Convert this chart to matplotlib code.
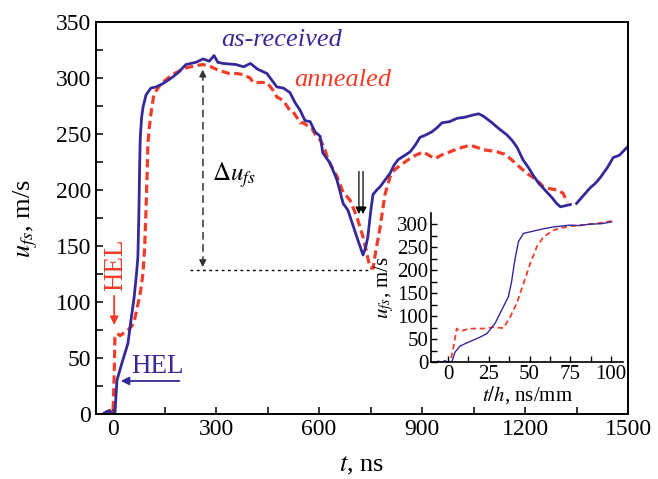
import numpy as np
import matplotlib
matplotlib.use("Agg")
import matplotlib.pyplot as plt
from matplotlib.ticker import MultipleLocator

plt.rcParams['font.family'] = ['Liberation Serif', 'DejaVu Serif']
plt.rcParams['mathtext.fontset'] = 'stix'

#-------------------------------------------------------------
# main plot: free surface velocity vs time
t_rec = [-30, -20, -12, -5, 5, 8, 11, 25, 43, 52, 61, 68, 72, 75, 77, 79, 83, 87, 96,
         110, 125, 145, 160, 174, 190, 212, 241, 262, 280, 294, 305, 320, 358, 380,
         400, 420, 448, 477, 496, 515, 530, 545, 559, 574, 588, 603, 611, 632, 652,
         670, 684, 697, 710, 728, 735, 742, 750, 757, 768, 778, 790, 807, 818, 830,
         845, 865, 880, 894, 910, 929, 945, 958, 980, 1002, 1025, 1049, 1065, 1078,
         1100, 1119, 1148, 1163, 1177, 1194, 1210, 1224, 1240, 1258, 1279, 1292,
         1303, 1318, 1332, np.nan, 1350, 1370, 1390, 1405, 1419, 1440, 1457, 1475,
         1497]
u_rec = [0, 2, 3, 0, 0, 15, 30, 45, 63, 84, 104, 125, 140, 180, 220, 247, 265, 274,
         285, 291, 292, 295, 298, 301, 305, 312, 314, 317, 315, 320, 314, 313, 312,
         310, 313, 308, 304, 292, 291, 287, 278, 271, 262, 261, 252, 248, 233, 224,
         209, 188, 182, 170, 158, 142, 148, 158, 180, 196, 200, 203, 208, 215, 222,
         227, 230, 234, 240, 247, 249, 252, 256, 260, 261, 264, 265, 267, 268, 266,
         261, 256, 249, 244, 238, 227, 220, 213, 206, 200, 193, 188, 185, 186, 187,
         np.nan, 188, 195, 202, 206, 211, 220, 229, 231, 238]

t_ann = [-15, -8, -3, 0, 3, 5, 12, 20, 30, 40, 50, 60, 73, 80, 87, 92, 96, 99, 101,
         105, 110, 119, 140, 160, 178, 212, 240, 262, 285, 306, 338, 360, 379, 399,
         408, 428, 448, 466, 477, 495, 515, 524, 545, 553, 579, 592, 603, 615, 626,
         652, 670, 690, 710, 728, 738, 748, 757, 765, 778, 785, 792, 807, 820, 836,
         855, 874, 903, 920, 938, 955, 973, 1005, 1040, 1060, 1078, 1100, 1119, 1140,
         1157, 1172, 1186, 1205, 1224, 1240, 1253, 1275, 1294, 1311, 1323]
u_ann = [0, 3, 0, 5, 35, 68, 72, 70, 72, 74, 77, 81, 99, 110, 126, 150, 185, 215,
         240, 255, 268, 286, 295, 300, 304, 309, 311, 312, 310, 307, 304, 304, 303,
         300, 296, 296, 296, 289, 283, 280, 271, 270, 260, 260, 255, 248, 245, 238,
         227, 212, 198, 191, 176, 158, 145, 131, 130, 145, 167, 182, 196, 212, 218,
         222, 226, 230, 234, 231, 228, 231, 233, 237, 240, 238, 236, 235, 234, 232,
         228, 224, 220, 215, 211, 207, 203, 201, 200, 197, 189]

# inset: velocity vs normalized time t/h
th_rec = [-8, -6, -4, -2, 0, 2.3, 4.3, 7.4, 11, 15.6, 20, 23.8, 28.8, 32.9, 37, 39, 41,
          43.2, 46.3, 52.4, 58.5, 64.7, 70, 74.9, 80, 87, 94, 100.5]
uh_rec = [0, 2, 0, 3, 0, 0, 22, 35, 41, 48, 55, 62, 84, 113, 142, 175, 222, 262, 280,
          285, 290, 294, 296, 298, 297, 300, 301, 305]
th_ann = [-2, 0, 1.5, 3.3, 5.3, 7, 9.4, 12, 15.6, 21.7, 27.9, 34, 38.1, 42.2, 46.3,
          50.4, 54.5, 58.5, 64.7, 70, 74.9, 80, 87, 94, 100.5]
uh_ann = [0, 0, 2, 33, 73, 68, 69, 72, 73, 73, 76, 74, 98, 128, 171, 214, 251, 272,
          287, 292, 296, 297, 300, 303, 307]

blue = '#35299a'
red = '#f03c28'

#-------------------------------------------------------------
fig = plt.figure(figsize=(6.58, 4.79), dpi=100)
ax = fig.add_axes([0.1459, 0.1357, 0.8085, 0.8184])

ax.plot(t_ann, u_ann, color=red, lw=2.3, ls=(0, (2.6, 1.4)))
ax.plot(t_rec, u_rec, color=blue, lw=2.0)

ax.set_xlim(-50, 1500)
ax.set_ylim(0, 350)
ax.xaxis.set_major_locator(MultipleLocator(300))
ax.xaxis.set_minor_locator(MultipleLocator(150))
ax.yaxis.set_major_locator(MultipleLocator(50))
ax.yaxis.set_minor_locator(MultipleLocator(25))
ax.tick_params(which='both', direction='in', labelsize=17, width=1.1, length=5)
for sp in ax.spines.values():
    sp.set_linewidth(1.4)

ax.set_xlabel(r'$t$, ns', fontsize=19)
ax.set_ylabel(r'$u_{fs}$, m/s', fontsize=19)
ax.xaxis.set_label_coords(0.5, -0.105)
ax.yaxis.set_label_coords(-0.105, 0.5)

# labels of the curves
ax.text(490, 334, 'as-received', color=blue, fontsize=19, style='italic',
        ha='center', va='center')
ax.text(668, 298, 'annealed', color=red, fontsize=19, style='italic',
        ha='center', va='center')

# spall pullback annotation
ax.plot([261, 261], [134, 303], color='#333333', lw=1.1, ls=(0, (5, 3)))
ax.annotate('', xy=(261, 310), xytext=(261, 300),
            arrowprops=dict(arrowstyle='-|>', color='#333333', lw=1.1,
                            mutation_scale=10))
ax.annotate('', xy=(261, 128.6), xytext=(261, 138),
            arrowprops=dict(arrowstyle='-|>', color='#333333', lw=1.1,
                            mutation_scale=10))
ax.plot([224, 752], [128.6, 128.6], color='black', lw=1.0, ls=(0, (2, 2.5)))
ax.text(287, 213, r'$\Delta u_{fs}$', fontsize=18, ha='left', va='center')

# spall signal arrows
for ta in (716, 728):
    ax.annotate('', xy=(ta, 176), xytext=(ta, 219),
                arrowprops=dict(arrowstyle='-|>', color='black', lw=0.9,
                                mutation_scale=10))

# HEL marks
ax.text(9, 133, 'HEL', color=red, fontsize=19.5, rotation=90,
        ha='center', va='center')
ax.annotate('', xy=(3, 77), xytext=(3, 108),
            arrowprops=dict(arrowstyle='-|>', color=red, lw=1.3,
                            mutation_scale=12))
ax.text(128, 42, 'HEL', color=blue, fontsize=19.5, ha='center', va='center')
ax.annotate('', xy=(14, 29.5), xytext=(201, 29.5),
            arrowprops=dict(arrowstyle='-|>', color=blue, lw=1.3,
                            mutation_scale=12))

#-------------------------------------------------------------
ins = fig.add_axes([0.655, 0.244, 0.292, 0.311])
ins.plot(th_ann, uh_ann, color=red, lw=1.3, ls=(0, (3, 2)))
ins.plot(th_rec, uh_rec, color=blue, lw=1.0)
ins.set_xlim(-10.5, 107.5)
ins.set_ylim(0, 324)
ins.spines['top'].set_visible(False)
ins.spines['right'].set_visible(False)
ins.spines['left'].set_linewidth(1.2)
ins.spines['bottom'].set_linewidth(1.2)
ins.patch.set_alpha(0)
ins.xaxis.set_major_locator(MultipleLocator(25))
ins.xaxis.set_minor_locator(MultipleLocator(12.5))
ins.yaxis.set_major_locator(MultipleLocator(50))
ins.yaxis.set_minor_locator(MultipleLocator(25))
ins.tick_params(which='both', direction='in', labelsize=15, width=1.0,
                length=4, pad=2)
ins.set_xlabel(r'$t/h$, ns/mm', fontsize=15, labelpad=0)
ins.set_ylabel(r'$u_{fs}$, m/s', fontsize=15, labelpad=1)

fig.savefig('out.png', dpi=100)
